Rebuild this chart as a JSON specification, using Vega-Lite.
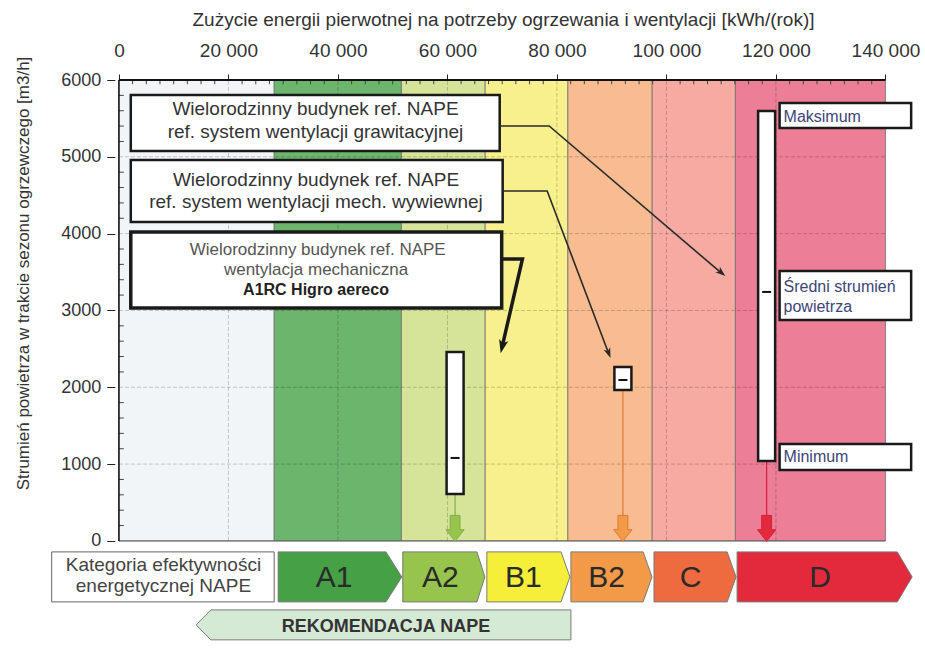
{
  "$schema": "https://vega.github.io/schema/vega-lite/v6.json",
  "width": 880,
  "height": 565,
  "autosize": {"type": "none"},
  "padding": {"left": 40, "top": 80, "right": 5, "bottom": 5},
  "background": "#ffffff",
  "config": {"view": {"stroke": null}, "font": "Liberation Sans", "text": {"font": "Liberation Sans"}},
  "resolve": {"axis": {"x": "independent", "y": "independent"}},
  "data": {"values": [{}]},
  "datasets": {
    "bands": [
      {"cat": "brak", "e0": 0, "e1": 28360},
      {"cat": "A1", "e0": 28360, "e1": 51600},
      {"cat": "A2", "e0": 51600, "e1": 66900},
      {"cat": "B1", "e0": 66900, "e1": 82000},
      {"cat": "B2", "e0": 82000, "e1": 97400},
      {"cat": "C", "e0": 97400, "e1": 112600},
      {"cat": "D", "e0": 112600, "e1": 140000}
    ],
    "gridX": [{"e": 20000}, {"e": 40000}, {"e": 60000}, {"e": 80000}, {"e": 100000}, {"e": 120000}],
    "gridY": [{"f": 1000}, {"f": 2000}, {"f": 3000}, {"f": 4000}, {"f": 5000}],
    "minorX": [{"e": 2500}, {"e": 5000}, {"e": 7500}, {"e": 10000}, {"e": 12500}, {"e": 15000}, {"e": 17500}, {"e": 22500}, {"e": 25000}, {"e": 27500}, {"e": 30000}, {"e": 32500}, {"e": 35000}, {"e": 37500}, {"e": 42500}, {"e": 45000}, {"e": 47500}, {"e": 50000}, {"e": 52500}, {"e": 55000}, {"e": 57500}, {"e": 62500}, {"e": 65000}, {"e": 67500}, {"e": 70000}, {"e": 72500}, {"e": 75000}, {"e": 77500}, {"e": 82500}, {"e": 85000}, {"e": 87500}, {"e": 90000}, {"e": 92500}, {"e": 95000}, {"e": 97500}, {"e": 102500}, {"e": 105000}, {"e": 107500}, {"e": 110000}, {"e": 112500}, {"e": 115000}, {"e": 117500}, {"e": 122500}, {"e": 125000}, {"e": 127500}, {"e": 130000}, {"e": 132500}, {"e": 135000}, {"e": 137500}],
    "minorY": [{"f": 200}, {"f": 400}, {"f": 600}, {"f": 800}, {"f": 1200}, {"f": 1400}, {"f": 1600}, {"f": 1800}, {"f": 2200}, {"f": 2400}, {"f": 2600}, {"f": 2800}, {"f": 3200}, {"f": 3400}, {"f": 3600}, {"f": 3800}, {"f": 4200}, {"f": 4400}, {"f": 4600}, {"f": 4800}, {"f": 5200}, {"f": 5400}, {"f": 5600}, {"f": 5800}],
    "callouts": [
      {"id": 1, "x0": 2168, "x1": 69548, "y0": 5076, "y1": 5805},
      {"id": 2, "x0": 2168, "x1": 70090, "y0": 4152, "y1": 4959},
      {"id": 3, "x0": 2168, "x1": 69910, "y0": 3032, "y1": 4022}
    ],
    "infoBoxes": [
      {"n": "max", "x0": 120671, "x1": 144697, "y0": 5375, "y1": 5700},
      {"n": "mean", "x0": 120671, "x1": 144697, "y0": 2876, "y1": 3514},
      {"n": "min", "x0": 120671, "x1": 144697, "y0": 924, "y1": 1262}
    ],
    "connectors": [
      {"c": 1, "o": 1, "x": 69548, "y": 5401},
      {"c": 1, "o": 2, "x": 78581, "y": 5401},
      {"c": 1, "o": 3, "x": 110013, "y": 3488},
      {"c": 2, "o": 1, "x": 70090, "y": 4555},
      {"c": 2, "o": 2, "x": 78219, "y": 4555},
      {"c": 2, "o": 3, "x": 89419, "y": 2447},
      {"c": 3, "o": 1, "x": 69910, "y": 3670},
      {"c": 3, "o": 2, "x": 73703, "y": 3670},
      {"c": 3, "o": 3, "x": 70000, "y": 2529}
    ],
    "scenarios": [
      {"name": "A1RC Higro aereco", "cat": "A2", "e": 61400, "min": 612, "max": 2460, "mean": 1080},
      {"name": "mech. wywiewna", "cat": "B2", "e": 92050, "min": 1965, "max": 2265, "mean": 2095},
      {"name": "grawitacyjna", "cat": "D", "e": 118300, "min": 1041, "max": 5596, "mean": 3241}
    ],
    "catArrows": [
      {"cat": "A1", "e": 29084, "top": -143, "bot": -794},
      {"cat": "A1", "e": 48774, "top": -143, "bot": -794},
      {"cat": "A1", "e": 51665, "top": -469, "bot": -469},
      {"cat": "A2", "e": 51845, "top": -143, "bot": -794},
      {"cat": "A2", "e": 65393, "top": -143, "bot": -794},
      {"cat": "A2", "e": 66839, "top": -469, "bot": -469},
      {"cat": "B1", "e": 67200, "top": -143, "bot": -794},
      {"cat": "B1", "e": 80748, "top": -143, "bot": -794},
      {"cat": "B1", "e": 82374, "top": -469, "bot": -469},
      {"cat": "B2", "e": 82555, "top": -143, "bot": -794},
      {"cat": "B2", "e": 95742, "top": -143, "bot": -794},
      {"cat": "B2", "e": 97367, "top": -469, "bot": -469},
      {"cat": "C", "e": 97729, "top": -143, "bot": -794},
      {"cat": "C", "e": 111097, "top": -143, "bot": -794},
      {"cat": "C", "e": 112723, "top": -469, "bot": -469},
      {"cat": "D", "e": 112903, "top": -143, "bot": -794},
      {"cat": "D", "e": 142168, "top": -143, "bot": -794},
      {"cat": "D", "e": 144877, "top": -469, "bot": -469},
      {"cat": "REK", "e": 14090, "top": -1093, "bot": -1093},
      {"cat": "REK", "e": 16800, "top": -898, "bot": -1288},
      {"cat": "REK", "e": 82555, "top": -898, "bot": -1288}
    ],
    "texts": [
      {"g": "c12", "t": "Wielorodzinny budynek ref. NAPE", "x": 35900, "y": 5544},
      {"g": "c12", "t": "ref. system wentylacji grawitacyjnej", "x": 35900, "y": 5245},
      {"g": "c12", "t": "Wielorodzinny budynek ref. NAPE", "x": 36000, "y": 4620},
      {"g": "c12", "t": "ref. system wentylacji mech. wywiewnej", "x": 36000, "y": 4334},
      {"g": "c3", "t": "Wielorodzinny budynek ref. NAPE", "x": 36300, "y": 3722},
      {"g": "c3", "t": "wentylacja mechaniczna", "x": 36000, "y": 3462},
      {"g": "c3b", "t": "A1RC Higro aereco", "x": 36000, "y": 3202},
      {"g": "info", "t": "Maksimum", "x": 121393, "y": 5453},
      {"g": "info", "t": "Średni strumień", "x": 121393, "y": 3241},
      {"g": "info", "t": "powietrza", "x": 121393, "y": 2980},
      {"g": "info", "t": "Minimum", "x": 121393, "y": 1028},
      {"g": "kat", "t": "Kategoria efektywności", "x": 8129, "y": -390},
      {"g": "kat", "t": "energetycznej NAPE", "x": 8129, "y": -664},
      {"g": "cat", "t": "A1", "x": 39290, "y": -599},
      {"g": "cat", "t": "A2", "x": 58710, "y": -599},
      {"g": "cat", "t": "B1", "x": 73884, "y": -599},
      {"g": "cat", "t": "B2", "x": 89058, "y": -599},
      {"g": "cat", "t": "C", "x": 104413, "y": -599},
      {"g": "cat", "t": "D", "x": 128077, "y": -599},
      {"g": "rek", "t": "REKOMENDACJA NAPE", "x": 48774, "y": -1184}
    ]
  },
  "layer": [
    {
      "data": {"name": "bands"},
      "mark": {"type": "rect", "stroke": "#707070", "strokeWidth": 0.8},
      "encoding": {
        "x": {"field": "e0", "type": "quantitative", "scale": {"domain": [-13500, 145400], "nice": false, "zero": false},
          "axis": {"orient": "top", "values": [0, 20000, 40000, 60000, 80000, 100000, 120000, 140000],
            "labelExpr": "replace(format(datum.value, ','), ',', ' ')", "domain": false, "grid": false,
            "tickSize": 6, "tickColor": "#222", "tickWidth": 1, "labelFontSize": 19, "labelFont": "Liberation Sans",
            "labelColor": "#333", "labelPadding": 14, "labelFlush": false, "labelOverlap": false,
            "title": "Zużycie energii pierwotnej na potrzeby ogrzewania i wentylacji [kWh/(rok)]",
            "titleFontSize": 19, "titleFont": "Liberation Sans", "titleFontWeight": "normal", "titleColor": "#333",
            "titleX": 463, "titleY": -55, "titleBaseline": "alphabetic", "titleAlign": "center"}},
        "x2": {"field": "e1"},
        "y": {"datum": 0, "type": "quantitative", "scale": {"domain": [-1355, 6000], "nice": false, "zero": false},
          "axis": {"orient": "left", "offset": -74.76, "values": [0, 1000, 2000, 3000, 4000, 5000, 6000], "format": "d",
            "domain": false, "grid": false, "tickSize": 8, "tickColor": "#222", "labelFontSize": 18,
            "labelFont": "Liberation Sans", "labelColor": "#333", "labelPadding": 6, "labelFlush": false,
            "title": "Strumień powietrza w trakcie sezonu ogrzewczego [m3/h]", "titleFontSize": 17,
            "titleFont": "Liberation Sans", "titleFontWeight": "normal", "titleColor": "#333",
            "titleX": -91, "titleY": 193, "titleAngle": -90, "titleBaseline": "middle", "titleAlign": "center"}},
        "y2": {"datum": 6000},
        "color": {"field": "cat", "type": "nominal", "legend": null,
          "scale": {"domain": ["brak", "A1", "A2", "B1", "B2", "C", "D"],
            "range": ["#f2f5f8", "#6cb56c", "#d6e49a", "#f8f08c", "#f8bc90", "#f6aaa2", "#ec7e98"]}}
      }
    },
    {
      "data": {"name": "gridX"},
      "mark": {"type": "rule", "stroke": "#000", "strokeOpacity": 0.2, "strokeDash": [4, 2], "strokeWidth": 1},
      "encoding": {
        "x": {"field": "e", "type": "quantitative", "scale": {"domain": [-13500, 145400], "nice": false, "zero": false}, "axis": null},
        "y": {"datum": 0, "type": "quantitative", "scale": {"domain": [-1355, 6000], "nice": false, "zero": false}, "axis": null},
        "y2": {"datum": 6000}
      }
    },
    {
      "data": {"name": "gridY"},
      "mark": {"type": "rule", "stroke": "#000", "strokeOpacity": 0.2, "strokeDash": [4, 2], "strokeWidth": 1},
      "encoding": {
        "y": {"field": "f", "type": "quantitative", "scale": {"domain": [-1355, 6000], "nice": false, "zero": false}, "axis": null},
        "x": {"datum": 0, "type": "quantitative", "scale": {"domain": [-13500, 145400], "nice": false, "zero": false}, "axis": null},
        "x2": {"datum": 140000}
      }
    },
    {
      "data": {"name": "minorX"},
      "mark": {"type": "rule", "stroke": "#444", "strokeWidth": 1},
      "encoding": {
        "x": {"field": "e", "type": "quantitative", "scale": {"domain": [-13500, 145400], "nice": false, "zero": false}, "axis": null},
        "y": {"datum": 6000, "type": "quantitative", "scale": {"domain": [-1355, 6000], "nice": false, "zero": false}, "axis": null},
        "y2": {"datum": 5945}
      }
    },
    {
      "data": {"name": "minorY"},
      "mark": {"type": "rule", "stroke": "#444", "strokeWidth": 1},
      "encoding": {
        "y": {"field": "f", "type": "quantitative", "scale": {"domain": [-1355, 6000], "nice": false, "zero": false}, "axis": null},
        "x": {"datum": 0, "type": "quantitative", "scale": {"domain": [-13500, 145400], "nice": false, "zero": false}, "axis": null},
        "x2": {"datum": 900}
      }
    },
    {
      "mark": {"type": "rule", "stroke": "#111", "strokeWidth": 2},
      "encoding": {
        "y": {"datum": 6000, "type": "quantitative", "scale": {"domain": [-1355, 6000], "nice": false, "zero": false}, "axis": null},
        "x": {"datum": 0, "type": "quantitative", "scale": {"domain": [-13500, 145400], "nice": false, "zero": false}, "axis": null},
        "x2": {"datum": 140000}
      }
    },
    {
      "mark": {"type": "rule", "stroke": "#666", "strokeWidth": 1},
      "encoding": {
        "y": {"datum": 0, "type": "quantitative", "scale": {"domain": [-1355, 6000], "nice": false, "zero": false}, "axis": null},
        "x": {"datum": 0, "type": "quantitative", "scale": {"domain": [-13500, 145400], "nice": false, "zero": false}, "axis": null},
        "x2": {"datum": 140000}
      }
    },
    {
      "mark": {"type": "rule", "stroke": "#111", "strokeWidth": 1.5},
      "encoding": {
        "x": {"datum": 0, "type": "quantitative", "scale": {"domain": [-13500, 145400], "nice": false, "zero": false}, "axis": null},
        "y": {"datum": 0, "type": "quantitative", "scale": {"domain": [-1355, 6000], "nice": false, "zero": false}, "axis": null},
        "y2": {"datum": 6000}
      }
    },
    {
      "data": {"name": "callouts"},
      "transform": [{"filter": "datum.id < 3"}],
      "mark": {"type": "rect", "fill": "#ffffff", "stroke": "#1a1a1a", "strokeWidth": 2.5},
      "encoding": {
        "x": {"field": "x0", "type": "quantitative", "scale": {"domain": [-13500, 145400], "nice": false, "zero": false}, "axis": null},
        "x2": {"field": "x1"},
        "y": {"field": "y0", "type": "quantitative", "scale": {"domain": [-1355, 6000], "nice": false, "zero": false}, "axis": null},
        "y2": {"field": "y1"}
      }
    },
    {
      "data": {"name": "callouts"},
      "transform": [{"filter": "datum.id == 3"}],
      "mark": {"type": "rect", "fill": "#ffffff", "stroke": "#1a1a1a", "strokeWidth": 3.5},
      "encoding": {
        "x": {"field": "x0", "type": "quantitative", "scale": {"domain": [-13500, 145400], "nice": false, "zero": false}, "axis": null},
        "x2": {"field": "x1"},
        "y": {"field": "y0", "type": "quantitative", "scale": {"domain": [-1355, 6000], "nice": false, "zero": false}, "axis": null},
        "y2": {"field": "y1"}
      }
    },
    {
      "data": {"name": "infoBoxes"},
      "mark": {"type": "rect", "fill": "#ffffff", "stroke": "#1a1a1a", "strokeWidth": 2.5},
      "encoding": {
        "x": {"field": "x0", "type": "quantitative", "scale": {"domain": [-13500, 145400], "nice": false, "zero": false}, "axis": null},
        "x2": {"field": "x1"},
        "y": {"field": "y0", "type": "quantitative", "scale": {"domain": [-1355, 6000], "nice": false, "zero": false}, "axis": null},
        "y2": {"field": "y1"}
      }
    },
    {
      "data": {"name": "connectors"},
      "transform": [{"filter": "datum.c < 3"}],
      "mark": {"type": "line", "stroke": "#2a2a2a", "strokeWidth": 1.6},
      "encoding": {
        "x": {"field": "x", "type": "quantitative", "scale": {"domain": [-13500, 145400], "nice": false, "zero": false}, "axis": null},
        "y": {"field": "y", "type": "quantitative", "scale": {"domain": [-1355, 6000], "nice": false, "zero": false}, "axis": null},
        "detail": {"field": "c", "type": "nominal"},
        "order": {"field": "o", "type": "quantitative"}
      }
    },
    {
      "data": {"name": "connectors"},
      "transform": [{"filter": "datum.c == 3"}],
      "mark": {"type": "line", "stroke": "#1a1a1a", "strokeWidth": 3.5},
      "encoding": {
        "x": {"field": "x", "type": "quantitative", "scale": {"domain": [-13500, 145400], "nice": false, "zero": false}, "axis": null},
        "y": {"field": "y", "type": "quantitative", "scale": {"domain": [-1355, 6000], "nice": false, "zero": false}, "axis": null},
        "order": {"field": "o", "type": "quantitative"}
      }
    },
    {
      "mark": {"type": "point", "shape": "M0,-1L0.7,1L0,0.5L-0.7,1Z", "size": 100, "angle": 130, "filled": true, "fill": "#2a2a2a", "opacity": 1},
      "encoding": {
        "x": {"datum": 110050, "type": "quantitative", "scale": {"domain": [-13500, 145400], "nice": false, "zero": false}, "axis": null},
        "y": {"datum": 3491, "type": "quantitative", "scale": {"domain": [-1355, 6000], "nice": false, "zero": false}, "axis": null}
      }
    },
    {
      "mark": {"type": "point", "shape": "M0,-1L0.7,1L0,0.5L-0.7,1Z", "size": 100, "angle": 159, "filled": true, "fill": "#2a2a2a", "opacity": 1},
      "encoding": {
        "x": {"datum": 89455, "type": "quantitative", "scale": {"domain": [-13500, 145400], "nice": false, "zero": false}, "axis": null},
        "y": {"datum": 2443, "type": "quantitative", "scale": {"domain": [-1355, 6000], "nice": false, "zero": false}, "axis": null}
      }
    },
    {
      "mark": {"type": "point", "shape": "M0,-1L0.7,1L0,0.5L-0.7,1Z", "size": 180, "angle": 193, "filled": true, "fill": "#1a1a1a", "opacity": 1},
      "encoding": {
        "x": {"datum": 70000, "type": "quantitative", "scale": {"domain": [-13500, 145400], "nice": false, "zero": false}, "axis": null},
        "y": {"datum": 2529, "type": "quantitative", "scale": {"domain": [-1355, 6000], "nice": false, "zero": false}, "axis": null}
      }
    },
    {
      "data": {"name": "scenarios"},
      "mark": {"type": "rule", "strokeWidth": 1.2},
      "encoding": {
        "x": {"field": "e", "type": "quantitative", "scale": {"domain": [-13500, 145400], "nice": false, "zero": false}, "axis": null},
        "y": {"field": "min", "type": "quantitative", "scale": {"domain": [-1355, 6000], "nice": false, "zero": false}, "axis": null},
        "y2": {"datum": 325},
        "stroke": {"field": "cat", "type": "nominal", "legend": null,
          "scale": {"domain": ["A2", "B2", "D"], "range": ["#86ab4e", "#e07830", "#d32038"]}}
      }
    },
    {
      "data": {"name": "scenarios"},
      "mark": {"type": "bar", "size": 17, "fill": "#ffffff", "stroke": "#1a1a1a", "strokeWidth": 2.5},
      "encoding": {
        "x": {"field": "e", "type": "quantitative", "scale": {"domain": [-13500, 145400], "nice": false, "zero": false}, "axis": null},
        "y": {"field": "min", "type": "quantitative", "stack": null, "scale": {"domain": [-1355, 6000], "nice": false, "zero": false}, "axis": null},
        "y2": {"field": "max"}
      }
    },
    {
      "data": {"name": "scenarios"},
      "mark": {"type": "tick", "orient": "horizontal", "size": 9, "thickness": 2, "color": "#111", "opacity": 1},
      "encoding": {
        "x": {"field": "e", "type": "quantitative", "scale": {"domain": [-13500, 145400], "nice": false, "zero": false}, "axis": null},
        "y": {"field": "mean", "type": "quantitative", "scale": {"domain": [-1355, 6000], "nice": false, "zero": false}, "axis": null}
      }
    },
    {
      "data": {"name": "scenarios"},
      "mark": {"type": "point", "shape": "M-0.38,-1L0.38,-1L0.38,0.1L0.7,0.1L0,1L-0.7,0.1L-0.38,0.1Z", "size": 676, "filled": true, "opacity": 1, "strokeWidth": 1},
      "encoding": {
        "x": {"field": "e", "type": "quantitative", "scale": {"domain": [-13500, 145400], "nice": false, "zero": false}, "axis": null},
        "y": {"datum": 163, "type": "quantitative", "scale": {"domain": [-1355, 6000], "nice": false, "zero": false}, "axis": null},
        "fill": {"field": "cat", "type": "nominal", "legend": null,
          "scale": {"domain": ["A1", "A2", "B1", "B2", "C", "D", "REK"],
            "range": ["#46a046", "#97c44c", "#f6ef3a", "#f29a48", "#ee6b3f", "#e32a3d", "#d5ead5"]}},
        "stroke": {"field": "cat", "type": "nominal", "legend": null,
          "scale": {"domain": ["A2", "B2", "D"], "range": ["#86ab4e", "#e07830", "#d32038"]}}
      }
    },
    {
      "data": {"name": "catArrows"},
      "mark": {"type": "area", "stroke": "#7a7a7a", "strokeWidth": 1, "opacity": 1, "interpolate": "linear"},
      "encoding": {
        "x": {"field": "e", "type": "quantitative", "scale": {"domain": [-13500, 145400], "nice": false, "zero": false}, "axis": null},
        "y": {"field": "top", "type": "quantitative", "stack": null, "scale": {"domain": [-1355, 6000], "nice": false, "zero": false}, "axis": null},
        "y2": {"field": "bot"},
        "detail": {"field": "cat", "type": "nominal"},
        "fill": {"field": "cat", "type": "nominal", "legend": null,
          "scale": {"domain": ["A1", "A2", "B1", "B2", "C", "D", "REK"],
            "range": ["#46a046", "#97c44c", "#f6ef3a", "#f29a48", "#ee6b3f", "#e32a3d", "#d5ead5"]}}
      }
    },
    {
      "mark": {"type": "rect", "fill": "#ffffff", "stroke": "#666", "strokeWidth": 1},
      "encoding": {
        "x": {"datum": -12284, "type": "quantitative", "scale": {"domain": [-13500, 145400], "nice": false, "zero": false}, "axis": null},
        "x2": {"datum": 28361},
        "y": {"datum": -143, "type": "quantitative", "scale": {"domain": [-1355, 6000], "nice": false, "zero": false}, "axis": null},
        "y2": {"datum": -794}
      }
    },
    {
      "data": {"name": "texts"},
      "transform": [{"filter": "datum.g == 'c12'"}],
      "mark": {"type": "text", "fontSize": 19, "color": "#333", "align": "center", "baseline": "alphabetic", "font": "Liberation Sans"},
      "encoding": {
        "x": {"field": "x", "type": "quantitative", "scale": {"domain": [-13500, 145400], "nice": false, "zero": false}, "axis": null},
        "y": {"field": "y", "type": "quantitative", "scale": {"domain": [-1355, 6000], "nice": false, "zero": false}, "axis": null},
        "text": {"field": "t"}
      }
    },
    {
      "data": {"name": "texts"},
      "transform": [{"filter": "datum.g == 'c3'"}],
      "mark": {"type": "text", "fontSize": 17, "color": "#555", "align": "center", "baseline": "alphabetic", "font": "Liberation Sans"},
      "encoding": {
        "x": {"field": "x", "type": "quantitative", "scale": {"domain": [-13500, 145400], "nice": false, "zero": false}, "axis": null},
        "y": {"field": "y", "type": "quantitative", "scale": {"domain": [-1355, 6000], "nice": false, "zero": false}, "axis": null},
        "text": {"field": "t"}
      }
    },
    {
      "data": {"name": "texts"},
      "transform": [{"filter": "datum.g == 'c3b'"}],
      "mark": {"type": "text", "fontSize": 16, "fontWeight": "bold", "color": "#222", "align": "center", "baseline": "alphabetic", "font": "Liberation Sans"},
      "encoding": {
        "x": {"field": "x", "type": "quantitative", "scale": {"domain": [-13500, 145400], "nice": false, "zero": false}, "axis": null},
        "y": {"field": "y", "type": "quantitative", "scale": {"domain": [-1355, 6000], "nice": false, "zero": false}, "axis": null},
        "text": {"field": "t"}
      }
    },
    {
      "data": {"name": "texts"},
      "transform": [{"filter": "datum.g == 'info'"}],
      "mark": {"type": "text", "fontSize": 16, "color": "#3b4577", "align": "left", "baseline": "alphabetic", "font": "Liberation Sans"},
      "encoding": {
        "x": {"field": "x", "type": "quantitative", "scale": {"domain": [-13500, 145400], "nice": false, "zero": false}, "axis": null},
        "y": {"field": "y", "type": "quantitative", "scale": {"domain": [-1355, 6000], "nice": false, "zero": false}, "axis": null},
        "text": {"field": "t"}
      }
    },
    {
      "data": {"name": "texts"},
      "transform": [{"filter": "datum.g == 'kat'"}],
      "mark": {"type": "text", "fontSize": 19, "color": "#444", "align": "center", "baseline": "alphabetic", "font": "Liberation Sans"},
      "encoding": {
        "x": {"field": "x", "type": "quantitative", "scale": {"domain": [-13500, 145400], "nice": false, "zero": false}, "axis": null},
        "y": {"field": "y", "type": "quantitative", "scale": {"domain": [-1355, 6000], "nice": false, "zero": false}, "axis": null},
        "text": {"field": "t"}
      }
    },
    {
      "data": {"name": "texts"},
      "transform": [{"filter": "datum.g == 'cat'"}],
      "mark": {"type": "text", "fontSize": 30, "color": "#2a2a2a", "align": "center", "baseline": "alphabetic", "font": "Liberation Sans"},
      "encoding": {
        "x": {"field": "x", "type": "quantitative", "scale": {"domain": [-13500, 145400], "nice": false, "zero": false}, "axis": null},
        "y": {"field": "y", "type": "quantitative", "scale": {"domain": [-1355, 6000], "nice": false, "zero": false}, "axis": null},
        "text": {"field": "t"}
      }
    },
    {
      "data": {"name": "texts"},
      "transform": [{"filter": "datum.g == 'rek'"}],
      "mark": {"type": "text", "fontSize": 18, "fontWeight": "bold", "color": "#333", "align": "center", "baseline": "alphabetic", "font": "Liberation Sans"},
      "encoding": {
        "x": {"field": "x", "type": "quantitative", "scale": {"domain": [-13500, 145400], "nice": false, "zero": false}, "axis": null},
        "y": {"field": "y", "type": "quantitative", "scale": {"domain": [-1355, 6000], "nice": false, "zero": false}, "axis": null},
        "text": {"field": "t"}
      }
    }
  ]
}
